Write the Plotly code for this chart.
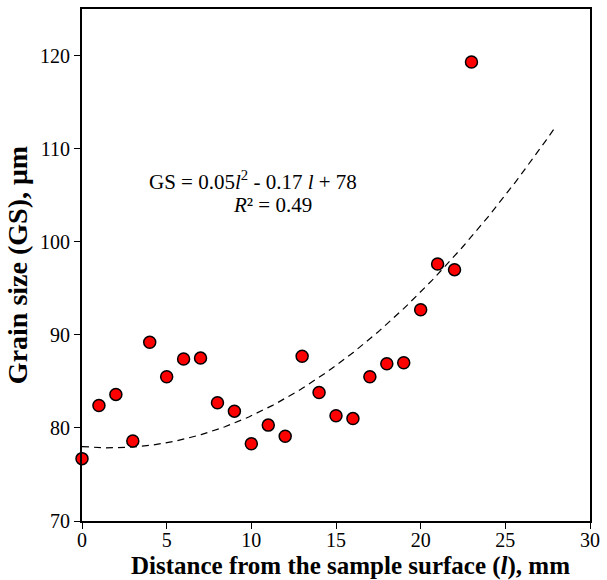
import numpy as np
import plotly.graph_objects as go

distance = [0, 1, 2, 3, 4, 5, 6, 7, 8, 9, 10, 11, 12, 13, 14, 15, 16, 17, 18, 19, 20, 21, 22, 23]
grain_size = [76.7, 82.4, 83.6, 78.6, 89.2, 85.5, 87.4, 87.5, 82.7, 81.8, 78.3, 80.3,
              79.1, 87.7, 83.8, 81.3, 81.0, 85.5, 86.9, 87.0, 92.7, 97.6, 97.0, 119.3]
fit_coef = [0.05, -0.17, 78]  # a*l^2 + b*l + c
fit_range = [0, 28]
x_ticks = [0, 5, 10, 15, 20, 25, 30]
y_ticks = [70, 80, 90, 100, 110, 120]

xf = np.linspace(fit_range[0], fit_range[1], 200)
yf = np.polyval(fit_coef, xf)

serif = "Liberation Serif, Times New Roman, serif"

fig = go.Figure()
fig.add_trace(go.Scatter(x=xf, y=yf, mode="lines",
                         line=dict(color="black", width=1.2, dash="7px,5px"),
                         hoverinfo="skip", showlegend=False, cliponaxis=False))
fig.add_trace(go.Scatter(x=distance, y=grain_size, mode="markers",
                         marker=dict(color="#ff0000", size=12,
                                     line=dict(color="black", width=1.5)),
                         showlegend=False, cliponaxis=False))

fig.add_annotation(x=10.1, y=106.6, xref="x", yref="y",
                   text="GS = 0.05<i>l</i><sup>2</sup> - 0.17 <i>l</i> + 78",
                   showarrow=False, font=dict(family=serif, size=21, color="black"))
fig.add_annotation(x=11.25, y=103.9, xref="x", yref="y",
                   text="<i>R</i>² = 0.49",
                   showarrow=False, font=dict(family=serif, size=21, color="black"))

# x-axis title (placed as annotation to match the reference's horizontal offset)
fig.add_annotation(x=0.528, y=0, xref="paper", yref="paper", yanchor="middle",
                   yshift=-45, showarrow=False,
                   text="<b>Distance from the sample surface (<i>l</i>), mm</b>",
                   font=dict(family=serif, size=25, color="black"))

fig.update_layout(
    width=607, height=580,
    margin=dict(l=82, r=8, t=7, b=59),
    paper_bgcolor="white", plot_bgcolor="white",
    font=dict(family=serif, color="black", size=20),
    xaxis=dict(range=[0, 30], tickvals=x_ticks, ticks="outside", ticklen=6,
               tickwidth=1.2, tickcolor="black", showline=True, linecolor="black",
               linewidth=2, mirror=True, showgrid=False, zeroline=False,
               ticklabeloverflow="allow", ticklabelstandoff=-6,
               tickfont=dict(family=serif, size=20)),
    yaxis=dict(range=[70, 125], tickvals=y_ticks, ticks="outside", ticklen=6,
               tickwidth=1.2, tickcolor="black", showline=True, linecolor="black",
               linewidth=2, mirror=True, showgrid=False, zeroline=False,
               ticklabeloverflow="allow",
               tickfont=dict(family=serif, size=20),
               title=dict(text="<b>Grain size (GS), μm</b>",
                          font=dict(family=serif, size=28), standoff=4)),
)

fig.write_html("out.html")
